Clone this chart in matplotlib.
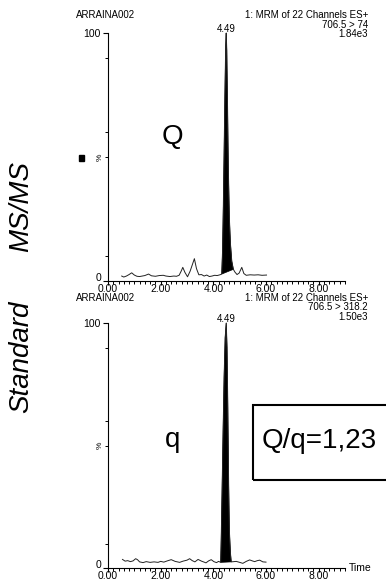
import numpy as np
import matplotlib
matplotlib.use('Agg')
import matplotlib.pyplot as plt
import matplotlib.transforms as mtransforms
from matplotlib.patches import Rectangle

plt.rcParams['font.family'] = ['Liberation Sans', 'DejaVu Sans']

# Chromatogram of the Q transition (706.5 > 74), % of 1.84e3
time_q = [0.52, 0.6, 0.7, 0.8, 0.9, 1.0, 1.1, 1.2, 1.3, 1.4, 1.54, 1.65, 1.8,
          1.95, 2.1, 2.2, 2.35, 2.5, 2.6, 2.7, 2.78, 2.84, 2.92, 3.02, 3.12,
          3.2, 3.28, 3.36, 3.45, 3.55, 3.65, 3.75, 3.85, 3.95, 4.05, 4.15,
          4.25, 4.32, 4.35, 4.38, 4.41, 4.44, 4.47, 4.49, 4.51, 4.54, 4.57,
          4.61, 4.65, 4.7, 4.76, 4.82, 4.9, 4.98, 5.08, 5.16, 5.25, 5.4, 5.55,
          5.7, 5.85, 6.02]
inten_q = [2.0, 1.6, 2.0, 2.6, 3.3, 2.4, 1.9, 1.8, 2.0, 2.2, 2.8, 2.1, 1.9,
           2.2, 2.3, 2.0, 1.8, 2.0, 1.9, 2.3, 4.0, 5.5, 3.5, 1.7, 4.0,
           6.5, 9.0, 5.0, 2.5, 2.6, 2.0, 2.4, 1.8, 2.0, 2.3, 2.2,
           2.5, 2.8, 12, 30, 52, 75, 95, 100, 93, 70, 45,
           25, 15, 8, 4.7, 3.6, 2.6, 3.2, 5.5, 3.0, 2.3, 2.5, 2.4,
           2.5, 2.3, 2.4]
peak_q = (4.32, 4.76)

# Chromatogram of the q transition (706.5 > 318.2), % of 1.50e3
time_s = [0.55, 0.65, 0.75, 0.85, 0.95, 1.05, 1.12, 1.2, 1.33, 1.45, 1.6, 1.75,
          1.9, 2.0, 2.12, 2.25, 2.4, 2.55, 2.72, 2.85, 3.0, 3.1, 3.2, 3.3,
          3.42, 3.55, 3.65, 3.72, 3.82, 3.92, 4.02, 4.12, 4.2, 4.28, 4.3,
          4.33, 4.37, 4.41, 4.45, 4.49, 4.52, 4.55, 4.58, 4.61, 4.65, 4.68,
          4.78, 4.87, 5.0, 5.12, 5.25, 5.38, 5.48, 5.57, 5.67, 5.76, 5.88, 6.0]
inten_s = [3.5, 2.8, 3.0, 2.6, 2.9, 3.8, 3.4, 2.5, 2.2, 2.6, 2.3, 2.5,
           2.3, 2.7, 2.4, 2.9, 3.4, 2.7, 2.3, 2.8, 3.2, 3.8, 3.0, 2.5,
           3.5, 2.8, 2.4, 2.1, 2.9, 3.4, 2.6, 2.2, 2.7, 2.3, 12,
           30, 55, 78, 94, 100, 90, 65, 35, 15, 6, 2.5,
           2.6, 2.7, 2.3, 1.9, 2.7, 3.3, 2.9, 2.6, 3.0, 3.2, 2.5, 2.4]
peak_s = (4.28, 4.68)

x_ticks = [0, 2, 4, 6, 8]
x_labels = ['0.00', '2.00', '4.00', '6.00', '8.00']

W, H = 386, 584
fs = 7.5
fs_head = 7


def px(x, y):
    return x / W, 1 - y / H


def draw_trace(ax, t, v, peak):
    t = np.array(t)
    v = np.array(v)
    ax.plot(t, v, color='#222222', linewidth=0.7, clip_on=False)
    sel = (t >= peak[0]) & (t <= peak[1])
    ax.fill(t[sel], v[sel], color='black', linewidth=0.5, clip_on=False)
    ax.set_xlim(0, 9)
    ax.set_ylim(0, 100)
    for s in ['top', 'right']:
        ax.spines[s].set_visible(False)
    ax.spines['left'].set_linewidth(0.8)
    ax.spines['bottom'].set_linewidth(0.8)
    ax.set_xticks(x_ticks)
    ax.set_xticklabels(x_labels, fontsize=fs)
    ax.set_xticks(np.arange(0, 9.01, 0.2), minor=True)
    ax.set_yticks([0, 100])
    ax.set_yticklabels(['0', '100'], fontsize=fs)
    ax.set_yticks([10, 50, 60, 90], minor=True)
    ax.tick_params(axis='x', which='major', length=3, width=0.8, pad=-0.8)
    ax.tick_params(axis='x', which='minor', length=1.8, width=0.7)
    ax.tick_params(axis='y', which='major', length=3.5, width=0.8, pad=1.5)
    ax.tick_params(axis='y', which='minor', length=2.2, width=0.7)
    # nudge the "0" label up a little so it clears "0.00"
    lab0 = ax.get_yticklabels()[0]
    lab0.set_transform(lab0.get_transform() + mtransforms.ScaledTranslation(
        0, 4 / 100, fig.dpi_scale_trans))
    ax.text(4.49, 100.5, '4.49', ha='center', va='baseline', fontsize=fs_head)


fig = plt.figure(figsize=(W / 100, H / 100), dpi=100)

ax1 = fig.add_axes([108 / W, 1 - 281 / H, 237 / W, 248 / H])
draw_trace(ax1, time_q, inten_q, peak_q)
ax2 = fig.add_axes([108 / W, 1 - 568 / H, 237 / W, 245 / H])
draw_trace(ax2, time_s, inten_s, peak_s)

# header texts
for y0, trans, scale in [(15, '706.5 > 74', '1.84e3'),
                         (298, '706.5 > 318.2', '1.50e3')]:
    fig.text(*px(76, y0), 'ARRAINA002', fontsize=fs_head, ha='left',
             va='center')
    fig.text(*px(368, y0), '1: MRM of 22 Channels ES+', fontsize=fs_head,
             ha='right', va='center')
    fig.text(*px(368, y0 + 9.5), trans, fontsize=fs_head, ha='right',
             va='center')
    fig.text(*px(368, y0 + 19), scale, fontsize=fs_head, ha='right',
             va='center')

fig.text(*px(100, 157), '%', fontsize=6, rotation=90, ha='center', va='center')
fig.text(*px(100, 445), '%', fontsize=6, rotation=90, ha='center', va='center')
fig.patches.append(Rectangle(px(79, 161), 5 / W, 6 / H, color='black',
                             transform=fig.transFigure, figure=fig))
fig.text(*px(349, 568), 'Time', fontsize=fs, ha='left', va='center')

fig.text(*px(172, 137), 'Q', fontsize=20, ha='center', va='center')
fig.text(*px(173, 440), 'q', fontsize=20, ha='center', va='center')

fig.text(*px(21, 206), 'MS/MS', fontsize=20, style='italic', rotation=90,
         ha='center', va='center')
fig.text(*px(21, 357), 'Standard', fontsize=20, style='italic', rotation=90,
         ha='center', va='center')

fig.patches.append(Rectangle(px(253, 480), 160 / W, 75 / H, fill=False,
                             edgecolor='black', linewidth=1.5,
                             transform=fig.transFigure, figure=fig))
fig.text(*px(319, 441), 'Q/q=1,23', fontsize=20, ha='center', va='center')

fig.savefig('out.png', dpi=100)
